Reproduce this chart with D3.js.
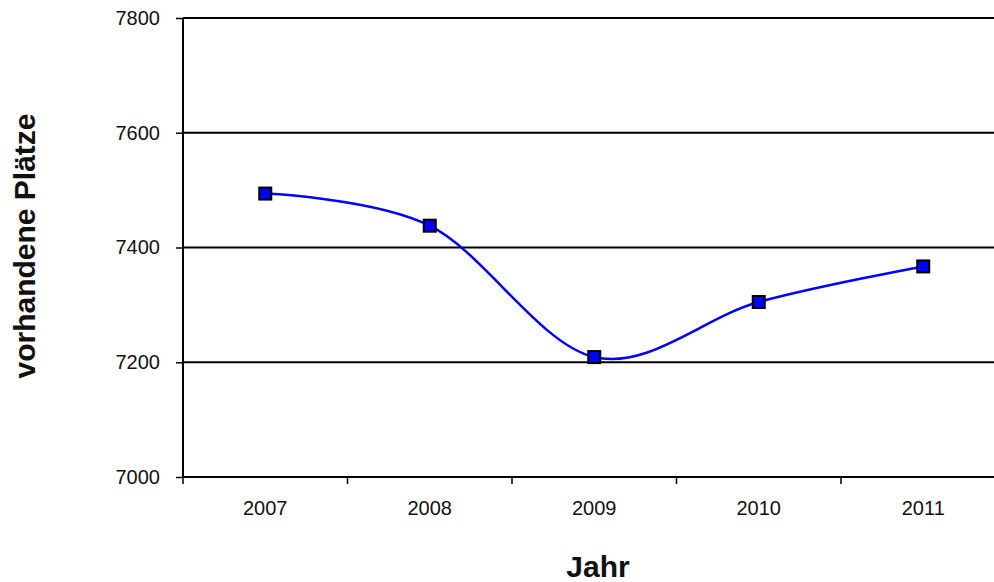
<!DOCTYPE html>
<html><head><meta charset="utf-8">
<script src="https://cdn.jsdelivr.net/npm/d3@7"></script>
<style>body{margin:0;background:#fff}svg{display:block}</style>
</head><body>
<svg id="c" width="994" height="582"></svg>
<script>
const years = ["2007","2008","2009","2010","2011"];
const values = [7494, 7438, 7209, 7305, 7367];
const yTicks = [7000, 7200, 7400, 7600, 7800];

const svg = d3.select("#c");
const plotLeft = 183, plotTop = 18, plotBottom = 477, bandW = 164.5;
const x = d3.scaleBand().domain(years).range([plotLeft, plotLeft + bandW * years.length]);
const y = d3.scaleLinear().domain([7000, 7800]).range([plotBottom, plotTop]);
const font = "'Liberation Sans', Arial, sans-serif";

// gridlines
svg.append("g").selectAll("line").data(yTicks.slice(1)).join("line")
  .attr("x1", plotLeft).attr("x2", 994)
  .attr("y1", d => y(d)).attr("y2", d => y(d))
  .attr("stroke", "#000").attr("stroke-width", 2);

// y axis
const yAxis = svg.append("g").attr("transform", `translate(${plotLeft},0)`)
  .call(d3.axisLeft(y).tickValues(yTicks).tickSize(7).tickPadding(16).tickFormat(d3.format("d")));
yAxis.select(".domain").attr("stroke-width", 2).attr("d", `M0,${plotBottom}V${plotTop}`);
yAxis.selectAll(".tick line").attr("stroke-width", 1.5);
yAxis.selectAll("text").attr("font-family", font).attr("font-size", 20).attr("fill", "#111");

// x axis
const xAxis = svg.append("g").attr("transform", `translate(0,${plotBottom})`)
  .call(d3.axisBottom(x).tickSize(0).tickPadding(24));
xAxis.select(".domain").attr("stroke-width", 2).attr("d", `M${plotLeft},0H994`);
xAxis.selectAll("text").attr("font-family", font).attr("font-size", 20).attr("fill", "#111");
// category boundary ticks
xAxis.append("g").selectAll("line").data(years).join("line")
  .attr("x1", d => x(d)).attr("x2", d => x(d)).attr("y1", 0).attr("y2", 7)
  .attr("stroke", "#000").attr("stroke-width", 1.5);

// line
const pts = years.map((d, i) => [x(d) + x.bandwidth() / 2, y(values[i])]);
svg.append("path").attr("d", d3.line().curve(d3.curveCatmullRom.alpha(0))(pts))
  .attr("fill", "none").attr("stroke", "#0000ff").attr("stroke-width", 2.5);

// markers
svg.append("g").selectAll("rect").data(pts).join("rect")
  .attr("x", d => d[0] - 6).attr("y", d => d[1] - 6)
  .attr("width", 12).attr("height", 12)
  .attr("fill", "#0000ff").attr("stroke", "#000").attr("stroke-width", 2);

// axis titles
svg.append("text").attr("transform", "translate(35,246) rotate(-90)")
  .attr("text-anchor", "middle").attr("font-family", font).attr("font-weight", "bold")
  .attr("font-size", 30).attr("fill", "#111").text("vorhandene Plätze");
svg.append("text").attr("x", 598).attr("y", 577)
  .attr("text-anchor", "middle").attr("font-family", font).attr("font-weight", "bold")
  .attr("font-size", 30).attr("fill", "#111").text("Jahr");
</script>
</body></html>
